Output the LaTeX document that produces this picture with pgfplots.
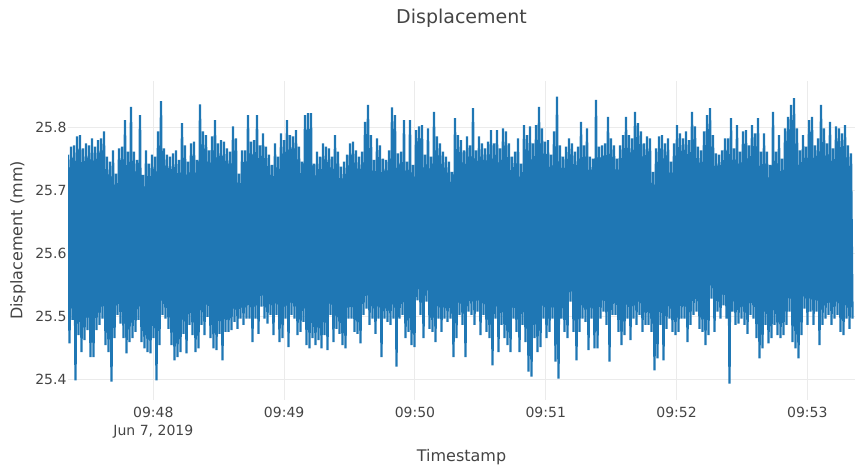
\documentclass[border=0pt]{standalone}
\usepackage{fontspec}
\setmainfont{DejaVu Sans}
\usepackage{pgfplots}
\usepackage{pgfplotstable}
\pgfplotsset{compat=1.18}
\definecolor{plotblue}{HTML}{1F77B4}
\definecolor{txt}{HTML}{444444}
\definecolor{gridc}{HTML}{EBEBEB}

% Displacement samples (alternating local maxima / minima), in sample order
\pgfplotstableread[row sep=\\]{
y\\
25.756\\ 25.457\\ 25.769\\ 25.494\\ 25.771\\ 25.398\\ 25.785\\ 25.470\\
25.787\\ 25.443\\ 25.766\\ 25.462\\ 25.774\\ 25.478\\ 25.771\\ 25.435\\
25.782\\ 25.435\\ 25.769\\ 25.478\\ 25.779\\ 25.486\\ 25.782\\ 25.496\\
25.793\\ 25.454\\ 25.753\\ 25.443\\ 25.745\\ 25.396\\ 25.763\\ 25.465\\
25.726\\ 25.502\\ 25.766\\ 25.488\\ 25.769\\ 25.465\\ 25.811\\ 25.441\\
25.761\\ 25.459\\ 25.832\\ 25.465\\ 25.761\\ 25.475\\ 25.748\\ 25.494\\
25.819\\ 25.459\\ 25.724\\ 25.449\\ 25.763\\ 25.443\\ 25.742\\ 25.441\\
25.756\\ 25.465\\ 25.753\\ 25.398\\ 25.793\\ 25.454\\ 25.841\\ 25.502\\
25.766\\ 25.496\\ 25.756\\ 25.480\\ 25.753\\ 25.454\\ 25.758\\ 25.430\\
25.763\\ 25.435\\ 25.748\\ 25.443\\ 25.806\\ 25.472\\ 25.771\\ 25.441\\
25.745\\ 25.486\\ 25.774\\ 25.470\\ 25.777\\ 25.443\\ 25.748\\ 25.449\\
25.836\\ 25.486\\ 25.793\\ 25.470\\ 25.787\\ 25.499\\ 25.763\\ 25.465\\
25.785\\ 25.449\\ 25.811\\ 25.446\\ 25.774\\ 25.472\\ 25.779\\ 25.430\\
25.777\\ 25.475\\ 25.766\\ 25.475\\ 25.761\\ 25.478\\ 25.801\\ 25.491\\
25.782\\ 25.480\\ 25.726\\ 25.496\\ 25.763\\ 25.486\\ 25.763\\ 25.496\\
25.819\\ 25.496\\ 25.777\\ 25.459\\ 25.779\\ 25.496\\ 25.819\\ 25.472\\
25.771\\ 25.515\\ 25.790\\ 25.496\\ 25.769\\ 25.488\\ 25.756\\ 25.502\\
25.740\\ 25.470\\ 25.774\\ 25.502\\ 25.753\\ 25.459\\ 25.790\\ 25.465\\
25.779\\ 25.496\\ 25.811\\ 25.451\\ 25.787\\ 25.502\\ 25.785\\ 25.496\\
25.795\\ 25.470\\ 25.769\\ 25.475\\ 25.745\\ 25.491\\ 25.819\\ 25.454\\
25.822\\ 25.449\\ 25.822\\ 25.465\\ 25.742\\ 25.454\\ 25.761\\ 25.462\\
25.753\\ 25.449\\ 25.774\\ 25.470\\ 25.769\\ 25.446\\ 25.766\\ 25.502\\
25.753\\ 25.459\\ 25.787\\ 25.480\\ 25.761\\ 25.472\\ 25.737\\ 25.454\\
25.745\\ 25.449\\ 25.756\\ 25.496\\ 25.774\\ 25.496\\ 25.777\\ 25.475\\
25.763\\ 25.472\\ 25.753\\ 25.457\\ 25.761\\ 25.502\\ 25.808\\ 25.512\\
25.835\\ 25.486\\ 25.787\\ 25.496\\ 25.748\\ 25.472\\ 25.782\\ 25.496\\
25.771\\ 25.435\\ 25.750\\ 25.496\\ 25.748\\ 25.491\\ 25.763\\ 25.486\\
25.831\\ 25.496\\ 25.819\\ 25.420\\ 25.758\\ 25.496\\
25.761\\ 25.502\\ 25.811\\ 25.465\\ 25.745\\ 25.475\\ 25.811\\ 25.454\\
25.740\\ 25.451\\ 25.795\\ 25.525\\ 25.801\\ 25.502\\ 25.803\\ 25.465\\
25.756\\ 25.523\\ 25.798\\ 25.480\\ 25.753\\ 25.475\\ 25.824\\ 25.459\\
25.785\\ 25.496\\ 25.774\\ 25.475\\ 25.761\\ 25.496\\ 25.753\\ 25.491\\
25.745\\ 25.496\\ 25.729\\ 25.435\\ 25.814\\ 25.465\\ 25.787\\ 25.502\\
25.779\\ 25.486\\ 25.763\\ 25.435\\ 25.785\\ 25.507\\ 25.771\\ 25.502\\
25.830\\ 25.486\\ 25.763\\ 25.507\\ 25.785\\ 25.470\\ 25.774\\ 25.502\\
25.766\\ 25.475\\ 25.777\\ 25.465\\ 25.795\\ 25.422\\ 25.774\\ 25.496\\
25.795\\ 25.443\\ 25.766\\ 25.486\\ 25.798\\ 25.465\\ 25.793\\ 25.454\\
25.774\\ 25.443\\ 25.753\\ 25.496\\ 25.761\\ 25.475\\ 25.782\\ 25.443\\
25.742\\ 25.486\\ 25.803\\ 25.459\\ 25.787\\ 25.412\\ 25.801\\ 25.404\\
25.774\\ 25.465\\ 25.803\\ 25.443\\ 25.832\\ 25.451\\ 25.798\\ 25.496\\
25.777\\ 25.465\\ 25.779\\ 25.475\\ 25.756\\ 25.496\\
25.793\\ 25.428\\ 25.848\\ 25.401\\ 25.771\\ 25.496\\ 25.753\\ 25.475\\
25.769\\ 25.465\\ 25.782\\ 25.523\\ 25.774\\ 25.475\\ 25.761\\ 25.430\\
25.769\\ 25.475\\ 25.808\\ 25.496\\ 25.771\\ 25.491\\ 25.798\\ 25.446\\
25.753\\ 25.496\\ 25.750\\ 25.449\\ 25.843\\ 25.449\\ 25.769\\ 25.496\\
25.771\\ 25.507\\ 25.774\\ 25.486\\ 25.816\\ 25.428\\ 25.782\\ 25.502\\
25.771\\ 25.502\\ 25.750\\ 25.475\\ 25.771\\ 25.454\\ 25.787\\ 25.470\\
25.816\\ 25.496\\ 25.787\\ 25.462\\ 25.782\\ 25.496\\ 25.824\\ 25.486\\
25.806\\ 25.502\\ 25.793\\ 25.475\\ 25.774\\ 25.486\\ 25.785\\ 25.486\\
25.782\\ 25.475\\ 25.729\\ 25.414\\ 25.766\\ 25.433\\ 25.785\\ 25.486\\
25.787\\ 25.430\\ 25.774\\ 25.480\\ 25.782\\ 25.496\\ 25.745\\ 25.475\\
25.774\\ 25.470\\ 25.803\\ 25.475\\ 25.790\\ 25.496\\ 25.782\\ 25.496\\
25.793\\ 25.459\\ 25.779\\ 25.486\\ 25.824\\ 25.502\\ 25.801\\ 25.507\\
25.769\\ 25.480\\ 25.763\\ 25.475\\ 25.793\\ 25.454\\
25.819\\ 25.470\\ 25.830\\ 25.528\\ 25.787\\ 25.475\\ 25.758\\ 25.507\\
25.756\\ 25.496\\ 25.763\\ 25.517\\ 25.782\\ 25.496\\ 25.782\\ 25.393\\
25.814\\ 25.507\\ 25.766\\ 25.486\\ 25.803\\ 25.488\\ 25.761\\ 25.496\\
25.793\\ 25.486\\ 25.795\\ 25.472\\ 25.771\\ 25.502\\ 25.803\\ 25.496\\
25.790\\ 25.465\\ 25.814\\ 25.433\\ 25.761\\ 25.449\\ 25.790\\ 25.486\\
25.761\\ 25.457\\ 25.740\\ 25.465\\ 25.824\\ 25.486\\ 25.761\\ 25.470\\
25.787\\ 25.465\\ 25.750\\ 25.470\\ 25.798\\ 25.486\\ 25.816\\ 25.507\\
25.835\\ 25.459\\ 25.846\\ 25.449\\ 25.798\\ 25.433\\ 25.763\\ 25.470\\
25.787\\ 25.512\\ 25.769\\ 25.486\\ 25.811\\ 25.507\\ 25.816\\ 25.486\\
25.771\\ 25.507\\ 25.782\\ 25.454\\ 25.835\\ 25.486\\ 25.798\\ 25.496\\
25.774\\ 25.502\\ 25.808\\ 25.486\\ 25.766\\ 25.496\\ 25.801\\ 25.502\\
25.798\\ 25.475\\ 25.790\\ 25.470\\ 25.803\\ 25.496\\ 25.771\\ 25.480\\
25.758\\ 25.496\\
}\disp

\begin{document}
\begin{tikzpicture}
\useasboundingbox (0,0) rectangle (855bp,468bp);
\begin{axis}[
  at={(68bp,68bp)}, anchor=south west,
  width=787bp, height=319bp, scale only axis,
  xmin=0, xmax=524.67, ymin=25.367, ymax=25.873,
  axis line style={draw=none},
  major tick style={draw=none},
  xtick={56.9,144.1,231.3,318.5,405.7,492.9},
  xticklabels={{09:48\\Jun 7, 2019},09:49,09:50,09:51,09:52,09:53},
  ytick={25.4,25.5,25.6,25.7,25.8},
  yticklabels={25.4,25.5,25.6,25.7,25.8},
  /pgf/number format/assume math mode=true,
  grid=major,
  major grid style={draw=gridc, line width=1bp},
  tick label style={font=\fontsize{14bp}{18.7bp}\selectfont, text=txt},
  xticklabel style={align=center, anchor=north, inner sep=0pt, yshift=-6.5bp},
  yticklabel style={anchor=east, inner sep=0pt, xshift=-1.3bp},
  title={Displacement},
  every axis title/.style={at={(axis description cs:0.5,1.1809)}, anchor=base,
    font=\fontsize{19bp}{22bp}\selectfont, text=txt},
  xlabel={Timestamp},
  every axis x label/.style={at={(axis description cs:0.5,-0.1934)}, anchor=base,
    font=\fontsize{16bp}{19bp}\selectfont, text=txt},
  ylabel={Displacement (mm)},
  every axis y label/.style={at={(axis description cs:-0.05807,0.5)}, rotate=90, anchor=base,
    font=\fontsize{16bp}{19bp}\selectfont, text=txt},
]
\addplot[plotblue, line width=2.3bp, line join=bevel] table[x expr=\coordindex, y=y]{\disp};
\end{axis}
\end{tikzpicture}
\end{document}
